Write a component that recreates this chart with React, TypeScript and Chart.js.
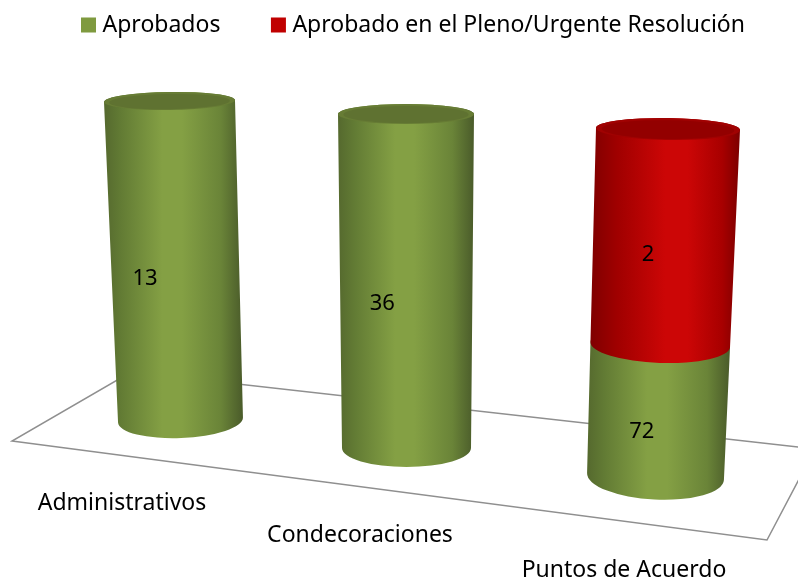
import React, { useEffect, useRef } from "react";
import { Chart, registerables } from "chart.js";

Chart.register(...registerables);

const categories = ["Administrativos", "Condecoraciones", "Puntos de Acuerdo"];
const seriesNames = ["Aprobados", "Aprobado en el Pleno/Urgente Resolución"];
// Drawn height of each stack segment (share of the cylinder)
const aprobadosHeights = [100, 100, 38];
const plenoHeights = [0, 0, 62];
// Numbers printed on the segments
const aprobadosLabels = ["13", "36", "72"];
const plenoLabels = ["", "", "2"];

const FONT = "'Noto Sans', 'Open Sans', sans-serif";
const GREEN_STOPS: [number, string][] = [[0, "#55692e"], [0.12, "#627b34"], [0.42, "#84a044"], [0.56, "#84a044"], [0.84, "#6a8438"], [1, "#4a5b2a"]];
const RED_STOPS: [number, string][] = [[0, "#7f0000"], [0.18, "#a00000"], [0.5, "#cc0606"], [0.65, "#cc0606"], [0.88, "#a80000"], [1, "#7c0000"]];

// perspective layout per category: [bottom, top]
const views = [
  { b: { dx: 22.92, y: 420, w: 125, ry: 18, tilt: -0.04 }, t: { dx: 11.92, y: 101, w: 131, ry: 9, tilt: -0.015 } },
  { b: { dx: -7.25, y: 448, w: 129, ry: 19, tilt: 0 }, t: { dx: -7.75, y: 114, w: 136, ry: 10, tilt: 0 } },
  { b: { dx: -14.42, y: 476.5, w: 137, ry: 23, tilt: 0.05 }, t: { dx: -1.92, y: 129, w: 144, ry: 11, tilt: 0.014 } },
];
const labelShift = [[[-30, 18]], [[-24, 23]], [[-16, 21], [-16, 18]]];
const tickPlace = [{ dx: -35.58, y: 510 }, { dx: -53.75, y: 542 }, { dx: -45.92, y: 577 }];
const floorPts = [[12, 441], [767, 540], [815, 449], [131, 372]];

function ring(view: any, x: number, f: number) {
  const m = (k: string) => view.b[k] + (view.t[k] - view.b[k]) * f;
  return { cx: x + m("dx"), cy: m("y"), rx: m("w") / 2, ry: m("ry"), tilt: m("tilt") };
}

function segment(ctx: CanvasRenderingContext2D, a: any, b: any, stops: [number, string][]) {
  const left = Math.min(a.cx - a.rx, b.cx - b.rx);
  const right = Math.max(a.cx + a.rx, b.cx + b.rx);
  const g = ctx.createLinearGradient(left, 0, right, 0);
  stops.forEach(([o, c]) => g.addColorStop(o, c));
  ctx.beginPath();
  ctx.ellipse(a.cx, a.cy, a.rx, a.ry, a.tilt, 0, Math.PI);
  ctx.ellipse(b.cx, b.cy, b.rx, b.ry, b.tilt, Math.PI, Math.PI * 2);
  ctx.closePath();
  ctx.fillStyle = g;
  ctx.fill();
}

function cap(ctx: CanvasRenderingContext2D, r: any, rim: string, inner: string) {
  ctx.beginPath();
  ctx.ellipse(r.cx, r.cy, r.rx, r.ry, r.tilt, 0, Math.PI * 2);
  ctx.fillStyle = rim;
  ctx.fill();
  ctx.beginPath();
  ctx.ellipse(r.cx, r.cy + 0.6, r.rx * 0.92, r.ry * 0.85, r.tilt, 0, Math.PI * 2);
  ctx.fillStyle = inner;
  ctx.fill();
}

const cylinders = {
  id: "cylinders",
  beforeDatasetDraw: () => false,
  beforeDatasetsDraw(chart: any) {
    const ctx = chart.ctx;
    ctx.save();
    ctx.beginPath();
    floorPts.forEach(([x, y], i) => (i ? ctx.lineTo(x, y) : ctx.moveTo(x, y)));
    ctx.closePath();
    ctx.strokeStyle = "#8f8f8f";
    ctx.lineWidth = 1.5;
    ctx.stroke();
    ctx.restore();
  },
  afterDatasetsDraw(chart: any) {
    const ctx = chart.ctx;
    const y = chart.scales.y;
    const span = y.getPixelForValue(0) - y.getPixelForValue(100);
    const frac = (px: number) => (y.getPixelForValue(0) - px) / span;
    const stopsBy = [GREEN_STOPS, RED_STOPS];
    const printed = [aprobadosLabels, plenoLabels];
    ctx.save();
    categories.forEach((_, i) => {
      const view = views[i];
      let last = -1;
      chart.data.datasets.forEach((ds: any, d: number) => {
        const el = chart.getDatasetMeta(d).data[i];
        if (!ds.data[i]) return;
        segment(ctx, ring(view, el.x, frac(el.base)), ring(view, el.x, frac(el.y)), stopsBy[d]);
        last = d;
      });
      const top = chart.getDatasetMeta(last).data[i];
      const r = ring(view, top.x, frac(top.y));
      if (last === 1) cap(ctx, r, "#a00202", "#930000");
      else cap(ctx, r, "#677c35", "#5f7231");
    });
    ctx.fillStyle = "#000";
    ctx.textAlign = "center";
    ctx.textBaseline = "middle";
    ctx.font = `22px ${FONT}`;
    categories.forEach((_, i) => {
      let n = 0;
      chart.data.datasets.forEach((ds: any, d: number) => {
        const el = chart.getDatasetMeta(d).data[i];
        const text = printed[d][i];
        if (!text) return;
        const mid = ring(views[i], el.x, frac((el.y + el.base) / 2));
        const [sx, sy] = labelShift[i][n++];
        ctx.fillText(text, mid.cx + sx, mid.cy + sy);
      });
    });
    ctx.textBaseline = "alphabetic";
    ctx.font = `23px ${FONT}`;
    chart.data.labels.forEach((lab: string, i: number) => {
      ctx.fillText(lab, chart.scales.x.getPixelForValue(i) + tickPlace[i].dx, tickPlace[i].y);
    });
    ctx.restore();
  },
};

export default function App() {
  const ref = useRef<HTMLCanvasElement>(null);
  useEffect(() => {
    document.body.style.margin = "0";
    const chart = new Chart(ref.current!, {
      type: "bar",
      data: {
        labels: categories,
        datasets: [
          { label: seriesNames[0], data: aprobadosHeights, backgroundColor: "#7f9a3f", borderColor: "#7f9a3f", borderWidth: 10 },
          { label: seriesNames[1], data: plenoHeights, backgroundColor: "#c00000", borderColor: "#c00000", borderWidth: 10 },
        ],
      },
      options: {
        responsive: false,
        animation: false,
        layout: { padding: { left: 29.5, right: -3.5, top: -42, bottom: 0 } },
        scales: {
          x: { stacked: true, display: false },
          y: { stacked: true, display: false, min: 0, max: 100 },
        },
        plugins: {
          tooltip: { enabled: false },
          legend: {
            position: "top",
            labels: { boxWidth: 5, boxHeight: 5, color: "#000", padding: 55.5, font: { family: FONT, size: 23 } },
          },
        },
      },
      plugins: [cylinders],
    } as any);
    return () => chart.destroy();
  }, []);
  return <canvas ref={ref} width={798} height={580} style={{ display: "block" }} />;
}
